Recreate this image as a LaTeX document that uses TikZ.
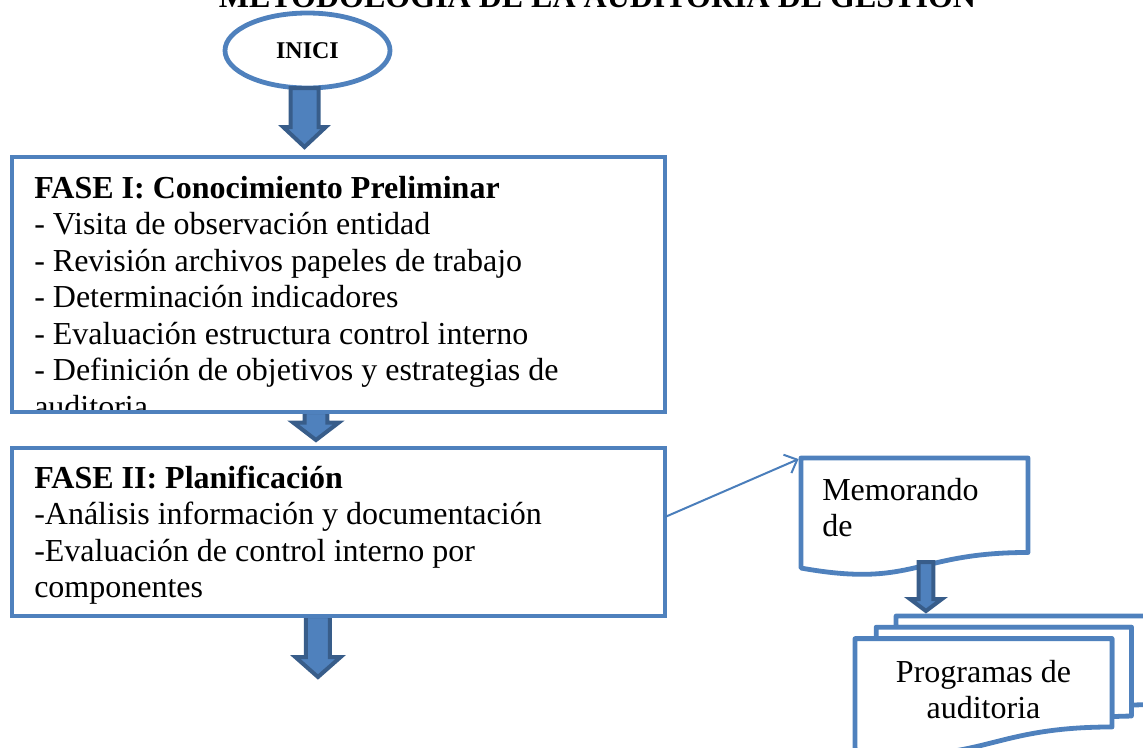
\documentclass[tikz,border=0pt]{standalone}
\usepackage{fontspec}
\setmainfont{Liberation Serif}
\usepackage{tikz}
\usetikzlibrary{arrows.meta,positioning,calc,shapes.geometric}
\pgfdeclarelayer{background}
\pgfsetlayers{background,main}

\definecolor{boxblue}{HTML}{4F81BD}
\definecolor{arrowdark}{HTML}{385D8A}
\definecolor{linkblue}{HTML}{4A7EBB}

\newcommand{\bigfont}{\fontsize{24}{27.4}\selectfont}

% block arrow pointing down: from, to, shaft half width, head half width, head length
\newcommand{\blockdown}[5]{%
  \filldraw[blockarrow] let \p1=(#1), \p2=(#2) in
    (\x1-#3,\y1) -- (\x1+#3,\y1) -- (\x1+#3,\y2+#5) -- (\x1+#4,\y2+#5)
    -- (\x1,\y2) -- (\x1-#4,\y2+#5) -- (\x1-#3,\y2+#5) -- cycle;
}

\begin{document}
\begin{tikzpicture}[x=0.75pt,y=-0.75pt,
  phasebox/.style={rectangle,fill=white,outer sep=0pt,inner sep=0pt,minimum width=489.75pt},
  boxline/.style={draw=boxblue,line width=3.6pt},
  phasetext/.style={anchor=north west,align=left,inner sep=0pt,font=\bigfont},
  blockarrow/.style={fill=boxblue,draw=arrowdark,line width=3pt,line join=miter},
  docline/.style={draw=boxblue,fill=white,line width=3.6pt,line join=round},
  link/.style={draw=linkblue,line width=1.5pt,shorten >=2pt,-{Straight Barb[length=8pt,width=15pt]}}]

\useasboundingbox (0,0) rectangle (1143,747);

% Title (its top runs off the page)
\node[anchor=base,font=\bigfont\bfseries] (titulo) at (597.5,7) {METODOLOGÍA DE LA AUDITORÍA DE GESTIÓN};

% Start
\node[ellipse,draw=boxblue,line width=3.6pt,outer sep=0pt,inner sep=0pt,
  minimum width=123.75pt,minimum height=56.25pt,
  font=\fontsize{18}{20}\selectfont\bfseries] (inici) at (307.5,50.5) {INICI};

% Phase I
\node[phasebox,minimum height=191.25pt] (fase1) at (338.5,284.5) {};
\begin{scope}
\clip (fase1.north west) rectangle (fase1.south east);
\node[phasetext] (fase1txt) at (34,172.4) {\strut\textbf{FASE I: Conocimiento Preliminar}\\
- Visita de observación entidad\\
- Revisión archivos papeles de trabajo\\
- Determinación indicadores\\
- Evaluación estructura control interno\\
- Definición de objetivos y estrategias de\\
auditoria};
\end{scope}
\draw[boxline] (fase1.north west) rectangle (fase1.south east);

% Phase II
\node[phasebox,minimum height=126pt] (fase2) at (338.5,532) {};
\node[phasetext] (fase2txt) at (34,462.4) {\strut\textbf{FASE II: Planificación}\\
-Análisis información y documentación\\
-Evaluación de control interno por\\
componentes};
\draw[boxline] (fase2.north west) rectangle (fase2.south east);

% Memorandum (document shape)
\node[inner sep=0pt,outer sep=0pt,minimum width=170.25pt,minimum height=88.35pt] (memo) at (914.5,516.9) {};
\draw[docline] (memo.north west) -- (memo.north east) -- ($(memo.north east)!0.802!(memo.south east)$)
  .. controls ($(memo.north)!0.802!(memo.south)$) and ($(memo.north)!1.1075!(memo.south)$)
  .. ($(memo.north west)!0.934!(memo.south west)$) -- cycle;
\node[phasetext] (memotxt) at (822,474.4) {\strut Memorando\\de};

% Audit programs (stack of documents)
\node[inner sep=0pt,outer sep=0pt,minimum width=223.875pt,minimum height=99.75pt] (progs) at (1004.25,682.5) {};
\begin{scope}[shift={(progs.north west)}]
\draw[docline] (41.07,11.18) -- (41.07,0) -- (298.5,0) -- (298.5,88.62)
  .. controls (287.44,88.62) and (276.39,89.08) .. (276.39,89.08) -- (276.39,11.18) -- cycle;
\draw[docline] (21.17,22.63) -- (21.17,11.18) -- (276.39,11.18) -- (276.39,100.07)
  .. controls (266.69,100.07) and (256.97,100.69) .. (256.97,100.69) -- (256.97,22.63) -- cycle;
\draw[docline] (0,134) .. controls (128.49,151) and (128.49,110.97) .. (256.97,110.97)
  -- (256.97,22.63) -- (0,22.63) -- cycle;
\end{scope}
\node[phasetext,anchor=north,align=center] (progstxt) at (983.5,656.4) {\strut Programas de\\auditoria};

% Arrows
\coordinate (sigue) at (318,677);
\blockdown{[xshift=-2.25pt]inici.south}{[yshift=7.5pt]fase1.north}{10.5pt}{16pt}{15pt}
\begin{pgfonlayer}{background}
\blockdown{[xshift=-16.9pt]fase1.south}{[yshift=6pt]fase2.north}{8.5pt}{17pt}{13pt}
\blockdown{[xshift=-15.4pt]fase2.south}{sigue}{9pt}{17pt}{15pt}
\end{pgfonlayer}
\blockdown{[xshift=8.6pt,yshift=10.35pt]memo.south}{[yshift=3.75pt]progs.north}{5.6pt}{12pt}{9pt}
\draw[link] ([yshift=11.25pt]fase2.east) -- (memo.north west);

\end{tikzpicture}
\end{document}
